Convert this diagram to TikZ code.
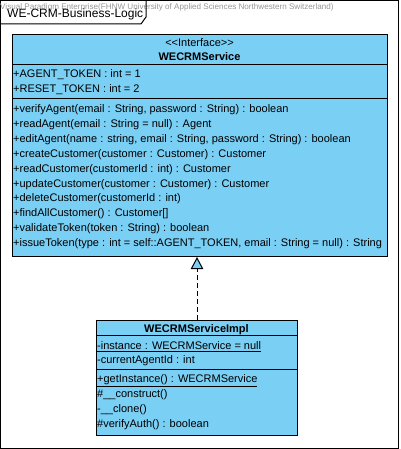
\documentclass[tikz,border=0pt]{standalone}
\usepackage{fontspec}
\setmainfont{Liberation Sans}
\usetikzlibrary{arrows.meta}
\definecolor{classblue}{RGB}{122,207,245}
\definecolor{wmgray}{RGB}{150,150,150}
\begin{document}
\begin{tikzpicture}[x=1pt,y=-1pt,
  framebox/.style={draw=black, line width=1pt},
  classbox/.style={draw=black, fill=classblue, line width=1pt},
  divider/.style={draw=black, line width=1pt},
  member/.style={anchor=base west, inner sep=0pt, font=\fontsize{11}{13}\selectfont},
  title/.style={anchor=base, inner sep=0pt, font=\fontsize{11}{13}\selectfont},
  realize/.style={draw=black, line width=1pt, dash pattern=on 5pt off 3pt,
    -{Triangle[length=12pt,width=12.5pt,fill=classblue]}}]
\useasboundingbox (0,0) rectangle (400,449);
% frame
\draw[framebox] (0.5,0.5) rectangle (398.5,448);
\node[anchor=base west, inner sep=0pt, text=wmgray, font=\fontsize{8.1}{9}\selectfont] (wm) at (0,9.5) {Visual Paradigm Enterprise(FHNW University of Applied Sciences Northwestern Switzerland)};
\draw[framebox] (0.5,0.5) -- (146,0.5) -- (146,17) -- (141,24) -- (0.5,24);
\node[anchor=base west, inner sep=0pt, font=\fontsize{12}{14}\selectfont] (frametitle) at (7,17.3) {WE-CRM-Business-Logic};
% interface class
\node[classbox, minimum width=375pt, minimum height=222pt, inner sep=0pt, anchor=north west] (svc) at (12,34) {};
\draw[divider] (12,65) -- (387,65);
\draw[divider] (12,98.5) -- (387,98.5);
\node[title] (svcst) at (199.5,46.5) {{<}{<}Interface{>}{>}};
\node[title, font=\fontsize{11}{13}\selectfont\bfseries] (svcname) at (199.5,61) {WECRMService};
\node[member] (a1) at (13,77.5) {+AGENT\_TOKEN : int = 1};
\node[member] (a2) at (13,92.5) {+RESET\_TOKEN : int = 2};
\node[member] (m1) at (13,112.5) {+verifyAgent(email : String, password : String) : boolean};
\node[member] (m2) at (13,127.4) {+readAgent(email : String = null) : Agent};
\node[member] (m3) at (13,142.3) {+editAgent(name : string, email : String, password : String) : boolean};
\node[member] (m4) at (13,157.2) {+createCustomer(customer : Customer) : Customer};
\node[member] (m5) at (13,172.1) {+readCustomer(customerId : int) : Customer};
\node[member] (m6) at (13,187) {+updateCustomer(customer : Customer) : Customer};
\node[member] (m7) at (13,201.9) {+deleteCustomer(customerId : int)};
\node[member] (m8) at (13,216.8) {+findAllCustomer() : Customer[]};
\node[member] (m9) at (13,231.7) {+validateToken(token : String) : boolean};
\node[member] (m10) at (13,246.6) {+issueToken(type : int = self::AGENT\_TOKEN, email : String = null) : String};
% implementation class
\node[classbox, minimum width=201pt, minimum height=115pt, inner sep=0pt, anchor=north west] (impl) at (96,320) {};
\draw[divider] (96,335.5) -- (297,335.5);
\draw[divider] (96,369) -- (297,369);
\node[title, font=\fontsize{11}{13}\selectfont\bfseries] (implname) at (196.5,332) {WECRMServiceImpl};
\node[member] (b1) at (97,349.2) {\underline{-instance : WECRMService = null}};
\node[member] (b2) at (97,363.5) {-currentAgentId : int};
\node[member] (c1) at (97,382.5) {\underline{+getInstance() : WECRMService}};
\node[member] (c2) at (97,397.5) {\#\_\_construct()};
\node[member] (c3) at (97,412.5) {-\_\_clone()};
\node[member] (c4) at (97,427) {\#verifyAuth() : boolean};
% realization
\draw[realize] (impl.north -| 197,0) -- (svc.south -| 197,0);
\end{tikzpicture}
\end{document}
